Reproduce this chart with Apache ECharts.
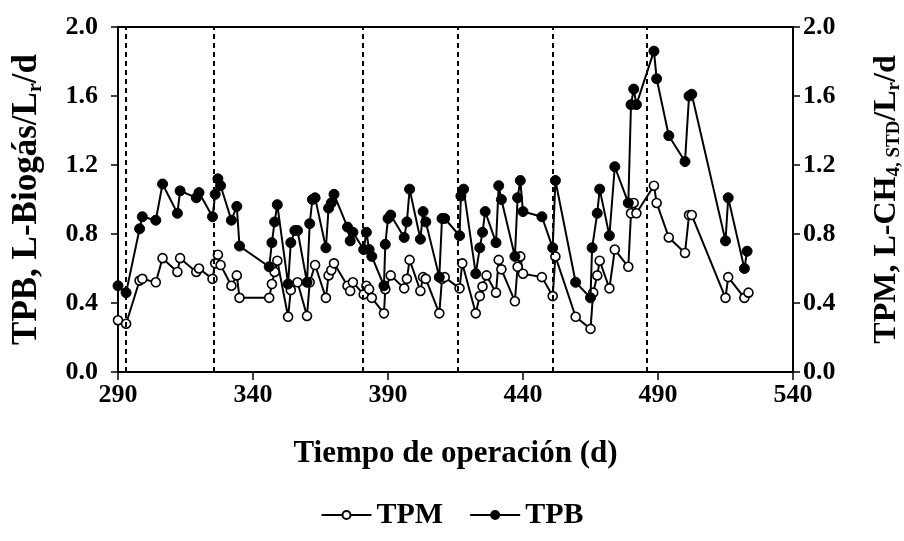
<!DOCTYPE html>
<html>
<head>
<meta charset="utf-8">
<script src="https://cdn.jsdelivr.net/npm/echarts@6/dist/echarts.min.js"></script>
<style>
  html, body { margin: 0; padding: 0; background: #fff; }
  #chart { width: 904px; height: 541px; }
</style>
</head>
<body>
<div id="chart"></div>
<script>
// days (d) and rates
const tpbDays = [290, 293, 298, 299, 304, 306.5, 312, 313, 319, 320, 325, 326, 327, 328, 332, 334, 335,
  346, 347, 348, 349, 353, 354, 355.5, 356.5, 360, 361, 362, 363, 367, 368, 369, 370, 375, 376, 377,
  381, 382, 383, 384, 388.5, 389, 390, 391, 396, 397, 398, 402, 403, 404, 409, 410, 411, 416.5, 417, 418,
  422.5, 424, 425, 426, 430, 431, 432, 437, 438, 439, 440, 447, 451, 452, 459.5, 465, 465.6, 467.5, 468.4,
  472, 474, 479, 480, 481, 482, 488.5, 489.5, 494, 500, 501.5, 502.5, 515, 516, 522, 523]
const tpbValues = [0.50, 0.46, 0.83, 0.90, 0.88, 1.09, 0.92, 1.05, 1.01, 1.04, 0.90, 1.03, 1.12, 1.08, 0.88, 0.96, 0.73,
  0.61, 0.75, 0.87, 0.97, 0.51, 0.75, 0.82, 0.82, 0.52, 0.86, 1.00, 1.01, 0.72, 0.95, 0.98, 1.03, 0.84, 0.76, 0.81,
  0.71, 0.81, 0.71, 0.67, 0.50, 0.74, 0.89, 0.91, 0.78, 0.87, 1.06, 0.77, 0.93, 0.87, 0.55, 0.89, 0.89, 0.79, 1.02, 1.06,
  0.57, 0.72, 0.81, 0.93, 0.75, 1.08, 1.00, 0.67, 1.01, 1.11, 0.93, 0.90, 0.72, 1.11, 0.52, 0.43, 0.72, 0.92, 1.06,
  0.79, 1.19, 0.98, 1.55, 1.64, 1.55, 1.86, 1.70, 1.37, 1.22, 1.60, 1.61, 0.76, 1.01, 0.60, 0.70]

const tpmDays = [290, 293, 298, 299, 304, 306.5, 312, 313, 319, 320, 325, 326, 327, 328, 332, 334, 335,
  346, 347, 348, 349, 353, 354, 356.5, 360, 361, 363, 367, 368, 369, 370, 375, 376, 377,
  381, 382, 383, 384, 388.5, 389, 391, 396, 397, 398, 402, 403, 404, 409, 410, 411, 416.5, 417.5,
  422.5, 424, 425, 426.5, 430, 431, 432, 437, 438, 439, 440, 447, 451, 452, 459.5, 465, 466, 467.5, 468.4,
  472, 474, 479, 480, 481, 482, 488.5, 489.5, 494, 500, 501.5, 502.5, 515, 516, 522, 523.5]
const tpmValues = [0.30, 0.28, 0.53, 0.54, 0.52, 0.66, 0.58, 0.66, 0.58, 0.60, 0.54, 0.63, 0.68, 0.62, 0.50, 0.56, 0.43,
  0.43, 0.51, 0.58, 0.645, 0.32, 0.475, 0.52, 0.325, 0.52, 0.62, 0.43, 0.56, 0.59, 0.63, 0.50, 0.47, 0.52,
  0.45, 0.50, 0.48, 0.43, 0.34, 0.48, 0.56, 0.485, 0.54, 0.65, 0.47, 0.55, 0.54, 0.34, 0.54, 0.55, 0.485, 0.63,
  0.34, 0.44, 0.495, 0.56, 0.46, 0.65, 0.595, 0.41, 0.61, 0.67, 0.57, 0.55, 0.44, 0.67, 0.32, 0.25, 0.46, 0.56, 0.645,
  0.485, 0.71, 0.61, 0.92, 0.98, 0.92, 1.08, 0.98, 0.78, 0.69, 0.91, 0.91, 0.43, 0.55, 0.43, 0.46]

// stage boundaries (dashed lines)
const stageDays = [293, 325.3, 380.7, 416, 451, 486]

const xTicks = [290, 340, 390, 440, 490, 540]
const yTicks = [0.0, 0.4, 0.8, 1.2, 1.6, 2.0]

const font = 'Liberation Serif'

function pairs(xs, ys) {
  return xs.map((x, i) => [x, ys[i]])
}

const chart = echarts.init(document.getElementById('chart'))

const axisText = { color: '#000', fontFamily: font, fontWeight: 'bold', fontSize: 26 }

function yAxis(name, pos, size, gap, margin) {
  return {
    type: 'value',
    position: pos,
    min: yTicks[0],
    max: yTicks[yTicks.length - 1],
    interval: 0.4,
    name: name,
    nameLocation: 'middle',
    nameRotate: 90,
    nameGap: gap,
    nameTextStyle: {
      color: '#000',
      fontFamily: font,
      fontWeight: 'bold',
      fontSize: size,
      rich: {
        n: { fontFamily: font, fontWeight: 'bold', fontSize: size, color: '#000' },
        s: {
          fontFamily: font, fontWeight: 'bold', fontSize: Math.round(size * 0.58), color: '#000',
          verticalAlign: 'bottom', padding: [Math.round(size * 0.5), 0, 0, 0],
        },
      },
    },
    axisLine: { show: true, lineStyle: { color: '#000', width: 2 } },
    axisTick: { show: true, inside: false, length: 7, lineStyle: { color: '#000', width: 1.5 } },
    axisLabel: Object.assign({ margin: margin, formatter: (v) => v.toFixed(1) }, axisText),
    splitLine: { show: false },
  }
}

chart.setOption({
  backgroundColor: '#fff',
  animation: false,
  grid: {
    left: 118, right: 111, top: 27, bottom: 169,
    outerBoundsMode: 'none', containLabel: false,
    show: true, borderColor: '#000', borderWidth: 2,
  },
  legend: {
    bottom: 6,
    left: 'center',
    itemWidth: 50,
    itemHeight: 10,
    itemGap: 26,
    textStyle: { color: '#000', fontFamily: font, fontWeight: 'bold', fontSize: 30 },
    data: ['TPM', 'TPB'],
  },
  xAxis: {
    type: 'value',
    min: xTicks[0],
    max: xTicks[xTicks.length - 1],
    interval: 50,
    name: 'Tiempo de operación (d)',
    nameLocation: 'middle',
    nameGap: 66,
    nameTextStyle: { color: '#000', fontFamily: font, fontWeight: 'bold', fontSize: 31 },
    axisLine: { show: true, lineStyle: { color: '#000', width: 2 } },
    axisTick: { show: true, inside: false, length: 8, lineStyle: { color: '#000', width: 1.5 } },
    axisLabel: Object.assign({ margin: 10 }, axisText),
    splitLine: { show: false },
  },
  yAxis: [
    yAxis('{n|TPB, L-Biogás/L}{s|r}{n|/d}', 'left', 35, 72, 20),
    yAxis('{n|TPM, L-CH}{s|4, STD}{n|/L}{s|r}{n|/d}', 'right', 32, 76, 10),
  ],
  series: [
    {
      name: 'TPM',
      type: 'line',
      yAxisIndex: 1,
      data: pairs(tpmDays, tpmValues),
      symbol: 'circle',
      symbolSize: 9,
      showAllSymbol: true,
      lineStyle: { color: '#000', width: 2 },
      itemStyle: { color: '#fff', borderColor: '#000', borderWidth: 1.6 },
      z: 3,
    },
    {
      name: 'TPB',
      type: 'line',
      data: pairs(tpbDays, tpbValues),
      symbol: 'circle',
      symbolSize: 10,
      showAllSymbol: true,
      lineStyle: { color: '#000', width: 2 },
      itemStyle: { color: '#000', borderColor: '#000', borderWidth: 1 },
      z: 4,
      markLine: {
        silent: true,
        symbol: ['none', 'none'],
        label: { show: false },
        lineStyle: { color: '#000', type: [5, 4], width: 2 },
        data: stageDays.map((d) => ({ xAxis: d })),
      },
    },
  ],
})
</script>
</body>
</html>
